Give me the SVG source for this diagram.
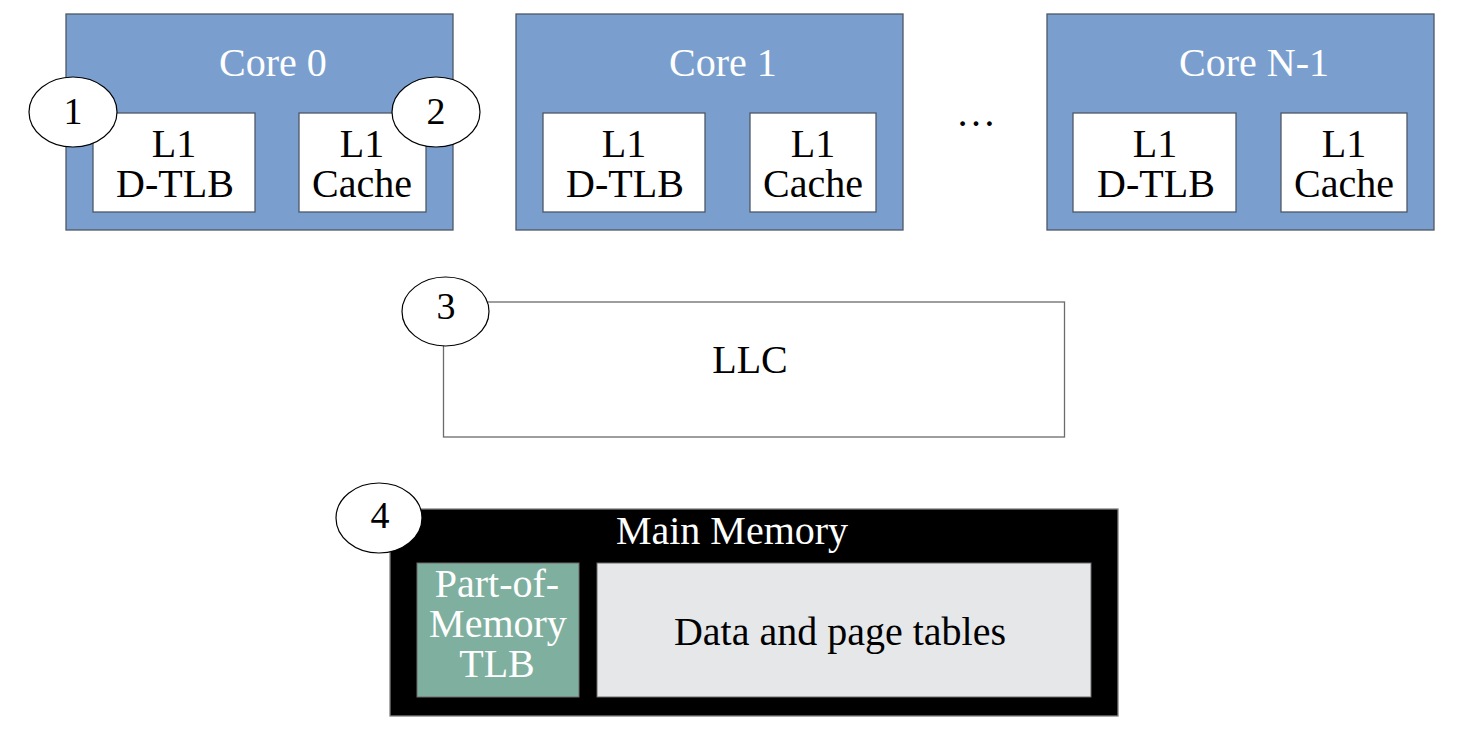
<svg xmlns="http://www.w3.org/2000/svg" width="1470" height="732" viewBox="0 0 1470 732">
<style>
text { font-family: "Liberation Serif", "Times New Roman", serif; text-anchor: middle; }
.core { fill: #7a9fcf; stroke: #4d5866; stroke-width: 1.3; }
.inner { fill: #ffffff; stroke: #4d5866; stroke-width: 1.3; }
.t40 { font-size: 40px; fill: #000; }
.w40 { font-size: 40px; fill: #fff; }
.badge { fill: #ffffff; stroke: #000; stroke-width: 1.2; }
.num { font-size: 38px; fill: #000; }
</style>
<rect width="1470" height="732" fill="#ffffff"/>
<g id="core0">
  <rect class="core" x="66" y="14" width="387" height="216"/>
  <text class="w40" x="273" y="76">Core 0</text>
  <rect class="inner" x="93" y="113" width="162" height="99"/>
  <text class="t40" x="174" y="157">L1</text>
  <text class="t40" x="175" y="197">D-TLB</text>
  <rect class="inner" x="299" y="113" width="127" height="99"/>
  <text class="t40" x="362" y="157">L1</text>
  <text class="t40" x="362" y="197">Cache</text>
</g>
<g id="core1">
  <rect class="core" x="516" y="14" width="387" height="216"/>
  <text class="w40" x="723" y="76">Core 1</text>
  <rect class="inner" x="543" y="113" width="162" height="99"/>
  <text class="t40" x="624" y="157">L1</text>
  <text class="t40" x="625" y="197">D-TLB</text>
  <rect class="inner" x="750" y="113" width="126" height="99"/>
  <text class="t40" x="813" y="157">L1</text>
  <text class="t40" x="813" y="197">Cache</text>
</g>
<g id="ellipsis">
  <text class="t40" x="976" y="126">…</text>
</g>
<g id="coreN1">
  <rect class="core" x="1047" y="14" width="387" height="216"/>
  <text class="w40" x="1254" y="76">Core N-1</text>
  <rect class="inner" x="1073" y="113" width="163" height="99"/>
  <text class="t40" x="1155" y="157">L1</text>
  <text class="t40" x="1156" y="197">D-TLB</text>
  <rect class="inner" x="1281" y="113" width="126" height="99"/>
  <text class="t40" x="1344" y="157">L1</text>
  <text class="t40" x="1344" y="197">Cache</text>
</g>
<g id="llc">
  <rect x="443.5" y="302" width="621" height="135" fill="#ffffff" stroke="#6b6b6b" stroke-width="1.3"/>
  <text class="t40" x="750" y="373">LLC</text>
</g>
<g id="mainmemory">
  <rect x="390" y="509" width="728" height="207" fill="#000000" stroke="#808080" stroke-width="1.3"/>
  <text class="w40" x="732" y="544">Main Memory</text>
  <rect x="417" y="563" width="162" height="134" fill="#7fb09f" stroke="#6b6b6b" stroke-width="1"/>
  <text class="w40" x="497" y="597">Part-of-</text>
  <text class="w40" x="498" y="637">Memory</text>
  <text class="w40" x="497" y="677">TLB</text>
  <rect x="597" y="563" width="494" height="134" fill="#e6e7e9" stroke="#6b6b6b" stroke-width="1"/>
  <text class="t40" x="840" y="645">Data and page tables</text>
</g>
<g id="badge1">
  <ellipse class="badge" cx="73" cy="112" rx="44" ry="35"/>
  <text class="num" x="73" y="124">1</text>
</g>
<g id="badge2">
  <ellipse class="badge" cx="436" cy="112" rx="44" ry="35"/>
  <text class="num" x="436" y="124">2</text>
</g>
<g id="badge3">
  <ellipse class="badge" cx="445.5" cy="311.5" rx="43.5" ry="34.5"/>
  <text class="num" x="446" y="319">3</text>
</g>
<g id="badge4">
  <ellipse class="badge" cx="379" cy="518" rx="43" ry="35"/>
  <text class="num" x="380" y="528">4</text>
</g>
<g id="connectors"></g>
</svg>
